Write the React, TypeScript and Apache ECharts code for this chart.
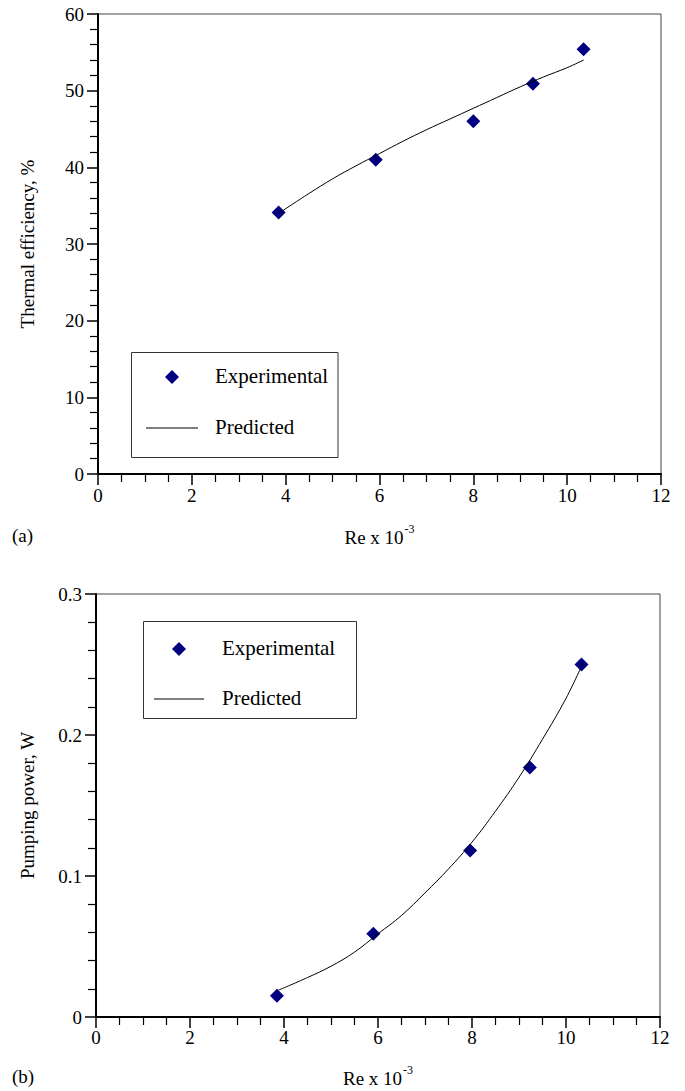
import React, { useEffect, useRef } from "react";
import * as echarts from "echarts";

// (a) Thermal efficiency
const reExpA = [3.85, 5.92, 8.0, 9.27, 10.35];
const effExp = [34.1, 41.0, 46.0, 50.9, 55.4];
const rePredA = [3.85, 4.5, 5.0, 5.5, 6.0, 6.5, 7.0, 7.5, 8.0, 8.5, 9.0, 9.5, 10.0, 10.35];
const effPred = [34.0, 36.6, 38.5, 40.2, 41.8, 43.4, 44.9, 46.3, 47.7, 49.1, 50.5, 51.8, 53.0, 54.0];

// (b) Pumping power
const reExpB = [3.85, 5.9, 7.96, 9.23, 10.33];
const powerExp = [0.015, 0.059, 0.118, 0.177, 0.25];
const rePredB = [3.88, 4.5, 5.0, 5.5, 6.0, 6.5, 7.0, 7.5, 8.0, 8.5, 9.0, 9.5, 10.0, 10.36];
const powerPred = [0.019, 0.028, 0.036, 0.046, 0.059, 0.072, 0.088, 0.105, 0.124, 0.146, 0.17, 0.197, 0.226, 0.251];

const xTicks = [0, 12, 2];
const yTicksA = [0, 60, 10];
const yTicksB = [0, 0.3, 0.1];
const legendLabels = ["Experimental", "Predicted"];

const FONT = "Liberation Serif";
const NAVY = "#000080";

const zip = (xs: number[], ys: number[]) => xs.map((x, i) => [x, ys[i]]);

export default function App() {
  const ref = useRef<HTMLDivElement>(null);
  useEffect(() => {
    document.body.style.margin = "0";
    const chart = echarts.init(ref.current!, null, { renderer: "svg" });
    const xAxisBase = (gridIndex: number, nameGap: number, labelMargin: number) => ({
      type: "value",
      gridIndex,
      min: xTicks[0],
      max: xTicks[1],
      interval: xTicks[2],
      name: "{a|Re x 10}{b|-3}",
      nameLocation: "middle",
      nameGap,
      nameTextStyle: {
        fontFamily: FONT,
        fontSize: 19,
        color: "#000",
        rich: {
          a: { fontFamily: FONT, fontSize: 19, color: "#000", lineHeight: 24, verticalAlign: "bottom" },
          b: { fontFamily: FONT, fontSize: 12, color: "#000", lineHeight: 24, verticalAlign: "top", padding: [0, 0, 0, 1] },
        },
      },
      axisLine: { show: true, onZero: false, lineStyle: { color: "#000", width: 2 } },
      axisTick: { show: true, inside: false, length: 11, lineStyle: { color: "#000", width: 1.5 } },
      minorTick: { show: true, splitNumber: 4, length: 8, lineStyle: { color: "#000", width: 1.2 } },
      splitLine: { show: false },
      axisLabel: { fontFamily: FONT, fontSize: 19, color: "#000", margin: labelMargin },
    });
    const yAxisBase = (gridIndex: number, ticks: number[], name: string, nameGap: number) => ({
      type: "value",
      gridIndex,
      min: ticks[0],
      max: ticks[1],
      interval: ticks[2],
      name,
      nameLocation: "middle",
      nameRotate: 90,
      nameGap,
      nameTextStyle: { fontFamily: FONT, fontSize: 19, color: "#000" },
      axisLine: { show: true, onZero: false, lineStyle: { color: "#000", width: 2 } },
      axisTick: { show: true, inside: false, length: 11, lineStyle: { color: "#000", width: 1.5 } },
      minorTick: { show: true, splitNumber: 5, length: 8, lineStyle: { color: "#000", width: 1.2 } },
      splitLine: { show: false },
      axisLabel: { fontFamily: FONT, fontSize: 19, color: "#000", margin: 14 },
    });

    const legendBox = (
      x0: number, y0: number, x1: number, y1: number,
      dx: number, dy: number, lx0: number, lx1: number, ly: number, tx: number
    ) => [
      {
        type: "rect",
        shape: { x: x0, y: y0, width: x1 - x0, height: y1 - y0 },
        style: { fill: "#fff", stroke: "#333", lineWidth: 1 },
        z: 100,
      },
      {
        type: "polygon",
        shape: { points: [[dx, dy - 7], [dx + 7, dy], [dx, dy + 7], [dx - 7, dy]] },
        style: { fill: NAVY },
        z: 101,
      },
      {
        type: "text",
        left: tx,
        top: dy - 12,
        style: { text: legendLabels[0], fontFamily: FONT, fontSize: 21, fill: "#000" },
        z: 101,
      },
      {
        type: "line",
        shape: { x1: lx0, y1: ly, x2: lx1, y2: ly },
        style: { stroke: "#000", lineWidth: 1 },
        z: 101,
      },
      {
        type: "text",
        left: tx,
        top: ly - 12,
        style: { text: legendLabels[1], fontFamily: FONT, fontSize: 21, fill: "#000" },
        z: 101,
      },
    ];

    chart.setOption({
      animation: false,
      backgroundColor: "#fff",
      grid: [
        { left: 98, top: 14, width: 563, height: 460, show: true, borderColor: "#444", borderWidth: 1, containLabel: false },
        { left: 96, top: 594, width: 564, height: 423, show: true, borderColor: "#444", borderWidth: 1, containLabel: false },
      ],
      xAxis: [xAxisBase(0, 49, 12), xAxisBase(1, 47, 11)],
      yAxis: [
        yAxisBase(0, yTicksA, "Thermal efficiency, %", 61),
        yAxisBase(1, yTicksB, "Pumping power, W", 59),
      ],
      series: [
        {
          name: "Predicted",
          type: "line",
          xAxisIndex: 0,
          yAxisIndex: 0,
          data: zip(rePredA, effPred),
          smooth: 0.4,
          showSymbol: false,
          symbol: "none",
          lineStyle: { color: "#000", width: 1 },
          itemStyle: { color: "#000" },
        },
        {
          name: "Experimental",
          type: "scatter",
          xAxisIndex: 0,
          yAxisIndex: 0,
          data: zip(reExpA, effExp),
          symbol: "diamond",
          symbolSize: 14,
          itemStyle: { color: NAVY, opacity: 1 },
        },
        {
          name: "Predicted",
          type: "line",
          xAxisIndex: 1,
          yAxisIndex: 1,
          data: zip(rePredB, powerPred),
          smooth: 0.4,
          showSymbol: false,
          symbol: "none",
          lineStyle: { color: "#000", width: 1 },
          itemStyle: { color: "#000" },
        },
        {
          name: "Experimental",
          type: "scatter",
          xAxisIndex: 1,
          yAxisIndex: 1,
          data: zip(reExpB, powerExp),
          symbol: "diamond",
          symbolSize: 14,
          itemStyle: { color: NAVY, opacity: 1 },
        },
      ],
      graphic: [
        ...legendBox(131.5, 352.5, 338, 457.5, 172, 377, 146, 198, 428, 215),
        ...legendBox(143.5, 621.5, 356.5, 718.5, 179, 649, 154, 204, 699, 222),
        { type: "text", left: 12, top: 526, style: { text: "(a)", fontFamily: FONT, fontSize: 19, fill: "#000" } },
        { type: "text", left: 12, top: 1067, style: { text: "(b)", fontFamily: FONT, fontSize: 19, fill: "#000" } },
      ],
    });
    return () => chart.dispose();
  }, []);
  return <div ref={ref} style={{ width: 685, height: 1091, fontFamily: "Liberation Serif" }} />;
}
